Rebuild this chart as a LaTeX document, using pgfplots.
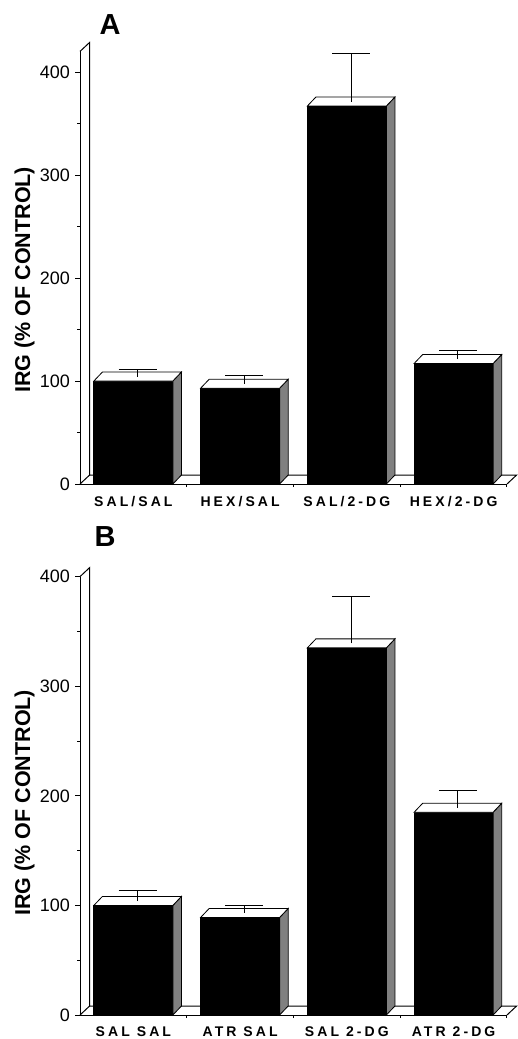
\documentclass[border=0pt]{standalone}
\usepackage{pgfplots}
\pgfplotsset{compat=1.18}
\usepackage{fontspec}
\setmainfont{Liberation Sans}
\newcommand{\tl}[1]{{\fontsize{9}{10}\selectfont #1}}
\begin{document}
\begin{tikzpicture}
\useasboundingbox (0pt,0pt) rectangle (259pt,-519.5pt);
\pgfplotsset{
 irg/.style={
  scale only axis, width=213.5pt, xmin=-0.5, xmax=3.5, ymin=0,
  clip=false,
  axis x line*=bottom, axis y line*=left,
  axis line style={-, line width=0.5pt, black},
  xtick={0,1,2,3}, major x tick style={draw=none},
  minor xtick={0.5,1.5,2.5,3.5},
  ytick={0,100,200,300,400}, minor ytick={50,150,250,350},
  yticklabels={\tl{0},\tl{100},\tl{200},\tl{300},\tl{400}},
  tick align=outside, major tick length=2.5pt, minor tick length=1.5pt,
  tick style={black, line width=0.5pt},
  yticklabel style={xshift=1pt},
  xticklabel style={font=\fontsize{7}{8}\selectfont\bfseries\addfontfeatures{LetterSpace=22}},
  every axis y label/.style={rotate=90, anchor=center, font=\fontsize{10.75}{12}\selectfont\bfseries},
  ylabel={IRG (\% OF CONTROL)},
 },
 front/.style={fill=black, draw=black, line width=0.4pt},
 top/.style={fill=white, draw=black, line width=0.4pt},
 side/.style={fill=black!50, draw=black, line width=0.4pt},
 wall/.style={black, line width=0.5pt},
 err/.style={draw=none, mark=none,
  error bars/.cd, y dir=plus, y explicit,
  error bar style={draw=black, line width=0.5pt},
  error mark options={rotate=90, draw=black, mark size=9.5pt, line width=0.5pt}},
}
% ---------------- Panel A ----------------
\begin{axis}[irg, at={(40pt,-242pt)}, anchor=south west,
  height=216.3pt, ymax=420,
  xticklabels={SAL/SAL, HEX/SAL, SAL/2-DG, HEX/2-DG},
  ylabel style={at={(axis description cs:-0.130,0.472)}}]
% wall and floor
\addplot[wall] coordinates {(-0.5,420) (-0.41,428.7) (-0.41,8.7) (3.59,8.7) (3.5,0)};
\addplot[wall] coordinates {(-0.5,0) (-0.41,8.7)};
% bar 1: SAL/SAL = 100
\addplot[front] coordinates {(-0.37,0) (0.37,0) (0.37,100) (-0.37,100)} -- cycle;
\addplot[side] coordinates {(0.37,0) (0.45,8.7) (0.45,108.7) (0.37,100)} -- cycle;
\addplot[top] coordinates {(-0.37,100) (0.37,100) (0.45,108.7) (-0.29,108.7)} -- cycle;
% bar 2: HEX/SAL = 93
\addplot[front] coordinates {(0.63,0) (1.37,0) (1.37,93) (0.63,93)} -- cycle;
\addplot[side] coordinates {(1.37,0) (1.45,8.7) (1.45,101.7) (1.37,93)} -- cycle;
\addplot[top] coordinates {(0.63,93) (1.37,93) (1.45,101.7) (0.71,101.7)} -- cycle;
% bar 3: SAL/2-DG = 367
\addplot[front] coordinates {(1.63,0) (2.37,0) (2.37,367) (1.63,367)} -- cycle;
\addplot[side] coordinates {(2.37,0) (2.45,8.7) (2.45,375.7) (2.37,367)} -- cycle;
\addplot[top] coordinates {(1.63,367) (2.37,367) (2.45,375.7) (1.71,375.7)} -- cycle;
% bar 4: HEX/2-DG = 117
\addplot[front] coordinates {(2.63,0) (3.37,0) (3.37,117) (2.63,117)} -- cycle;
\addplot[side] coordinates {(3.37,0) (3.45,8.7) (3.45,125.7) (3.37,117)} -- cycle;
\addplot[top] coordinates {(2.63,117) (3.37,117) (3.45,125.7) (2.71,125.7)} -- cycle;
% error bars (drawn from the middle of the top face)
\addplot[err] coordinates {(0.04,104.35) +- (0,7) (1.04,97.35) +- (0,7.8) (2.04,371.35) +- (0,47) (3.04,121.35) +- (0,8.7)};
\end{axis}
\node[font=\fontsize{14.5}{16}\selectfont\bfseries] at (55pt,-12.5pt) {A};
% ---------------- Panel B ----------------
\begin{axis}[irg, at={(40pt,-507.5pt)}, anchor=south west,
  height=219.2pt, ymax=400,
  xticklabels={SAL SAL, ATR SAL, SAL 2-DG, ATR 2-DG},
  ylabel style={at={(axis description cs:-0.130,0.484)}}]
\addplot[wall] coordinates {(-0.5,400) (-0.41,408.2) (-0.41,8.2) (3.59,8.2) (3.5,0)};
\addplot[wall] coordinates {(-0.5,0) (-0.41,8.2)};
% bar 1: SAL SAL = 100
\addplot[front] coordinates {(-0.37,0) (0.37,0) (0.37,100) (-0.37,100)} -- cycle;
\addplot[side] coordinates {(0.37,0) (0.45,8.2) (0.45,108.2) (0.37,100)} -- cycle;
\addplot[top] coordinates {(-0.37,100) (0.37,100) (0.45,108.2) (-0.29,108.2)} -- cycle;
% bar 2: ATR SAL = 89
\addplot[front] coordinates {(0.63,0) (1.37,0) (1.37,89) (0.63,89)} -- cycle;
\addplot[side] coordinates {(1.37,0) (1.45,8.2) (1.45,97.2) (1.37,89)} -- cycle;
\addplot[top] coordinates {(0.63,89) (1.37,89) (1.45,97.2) (0.71,97.2)} -- cycle;
% bar 3: SAL 2-DG = 335
\addplot[front] coordinates {(1.63,0) (2.37,0) (2.37,335) (1.63,335)} -- cycle;
\addplot[side] coordinates {(2.37,0) (2.45,8.2) (2.45,343.2) (2.37,335)} -- cycle;
\addplot[top] coordinates {(1.63,335) (2.37,335) (2.45,343.2) (1.71,343.2)} -- cycle;
% bar 4: ATR 2-DG = 185
\addplot[front] coordinates {(2.63,0) (3.37,0) (3.37,185) (2.63,185)} -- cycle;
\addplot[side] coordinates {(3.37,0) (3.45,8.2) (3.45,193.2) (3.37,185)} -- cycle;
\addplot[top] coordinates {(2.63,185) (3.37,185) (3.45,193.2) (2.71,193.2)} -- cycle;
\addplot[err] coordinates {(0.04,104.1) +- (0,9.3) (1.04,93.1) +- (0,6.4) (2.04,339.1) +- (0,42.6) (3.04,189.1) +- (0,16.2)};
\end{axis}
\node[font=\fontsize{14.5}{16}\selectfont\bfseries] at (52.5pt,-268.5pt) {B};
\end{tikzpicture}
\end{document}
